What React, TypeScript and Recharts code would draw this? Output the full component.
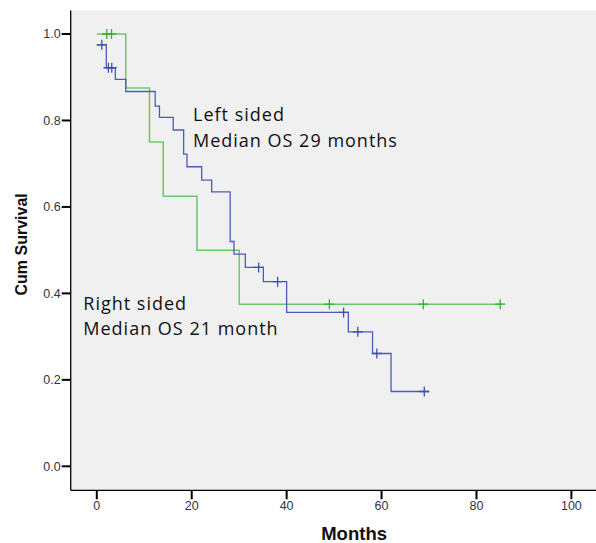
import React from 'react';
import { ComposedChart, Line, Scatter, XAxis, YAxis, CartesianGrid } from 'recharts';

// Kaplan-Meier steps (months / cum survival)
const leftTimes = [0, 2, 3.9, 6.1, 12.3, 13.2, 16.1, 18.3, 19, 22.1, 24.2, 28.1, 28.9, 31.3, 35.1, 40, 53, 58.1, 62, 70];
const leftSurv = [0.975, 0.922, 0.895, 0.867, 0.833, 0.807, 0.778, 0.722, 0.693, 0.662, 0.635, 0.52, 0.491, 0.46, 0.427, 0.356, 0.311, 0.261, 0.173, 0.173];
const leftCensorTimes = [1.05, 2.45, 3.15, 34.1, 38.1, 52, 55, 59, 69];
const leftCensorSurv = [0.975, 0.922, 0.922, 0.46, 0.427, 0.356, 0.311, 0.261, 0.173];

const rightTimes = [0, 6.1, 11.1, 14, 21.1, 30, 85.5];
const rightSurv = [1, 0.875, 0.75, 0.625, 0.5, 0.375, 0.375];
const rightCensorTimes = [2.1, 3.1, 49, 68.8, 85];
const rightCensorSurv = [1, 1, 0.375, 0.375, 0.375];

const xTicks = [0, 20, 40, 60, 80, 100];
const yTicks = [0, 0.2, 0.4, 0.6, 0.8, 1.0];

const toRows = (ts: number[], ss: number[]) => ts.map((t, i) => ({ t, s: ss[i] }));

const leftLine = toRows(leftTimes, leftSurv);
const leftCens = toRows(leftCensorTimes, leftCensorSurv);
const rightLine = toRows(rightTimes, rightSurv);
const rightCens = toRows(rightCensorTimes, rightCensorSurv);

const BLUE = '#4a5bbd';
const GREEN = '#6cc76c';

// censor mark "+"
const Censor = (color: string) => (props: any) => {
  const { cx, cy } = props;
  return (
    <g>
      <line x1={cx - 5} y1={cy} x2={cx + 5} y2={cy} stroke={color} strokeWidth={1.3} />
      <line x1={cx} y1={cy - 5} x2={cx} y2={cy + 5} stroke={color} strokeWidth={1.3} />
    </g>
  );
};

const axisFont = { fill: '#333344', fontSize: 12.5, fontFamily: '"Liberation Sans", Arial, sans-serif' };
const noteStyle = { fontFamily: '"Open Sans", sans-serif', fontSize: 18, letterSpacing: 1, fill: '#111' };

export default function App() {
  return (
    <div style={{ position: 'absolute', left: 0, top: 0, width: 596, height: 543, overflow: 'hidden', background: '#fff' }}>
      <ComposedChart width={620} height={543} margin={{ top: 10.5, right: 22.5, left: 0, bottom: 0 }}>
        <CartesianGrid horizontal={false} vertical={false} fill="#f0f0f0" />
        <XAxis
          dataKey="t"
          type="number"
          domain={[-5.5, 105.5]}
          allowDataOverflow
          ticks={xTicks}
          height={52.7}
          tickSize={9}
          tickMargin={2}
          axisLine={{ stroke: '#000', strokeWidth: 1.3 }}
          tickLine={{ stroke: '#000', strokeWidth: 2 }}
          tick={axisFont}
          label={{
            value: 'Months',
            position: 'insideBottom',
            offset: 3,
            dx: 20,
            style: { fontFamily: '"Liberation Sans", Arial, sans-serif', fontWeight: 'bold', fontSize: 18.5, fill: '#111' },
          }}
        />
        <XAxis
          xAxisId="top"
          orientation="top"
          type="number"
          domain={[-5.5, 105.5]}
          height={0}
          tick={false}
          tickLine={false}
          axisLine={{ stroke: '#000', strokeWidth: 1.3 }}
        />
        <YAxis
          type="number"
          domain={[-0.0555, 1.0544]}
          allowDataOverflow
          ticks={yTicks}
          tickFormatter={(v: number) => v.toFixed(1)}
          width={70.7}
          tickSize={9}
          tickMargin={1}
          axisLine={{ stroke: '#000', strokeWidth: 1.3 }}
          tickLine={{ stroke: '#000', strokeWidth: 2 }}
          tick={axisFont}
          label={{
            value: 'Cum Survival',
            angle: -90,
            position: 'insideLeft',
            offset: 21,
            dy: -6,
            style: { textAnchor: 'middle', fontFamily: '"Liberation Sans", Arial, sans-serif', fontWeight: 'bold', fontSize: 16, fill: '#111' },
          }}
        />
        <Line data={rightLine} dataKey="s" type="stepAfter" stroke={GREEN} strokeWidth={1.5} dot={false} activeDot={false} isAnimationActive={false} />
        <Line data={leftLine} dataKey="s" type="stepAfter" stroke={BLUE} strokeWidth={1.3} dot={false} activeDot={false} isAnimationActive={false} />
        <Scatter data={rightCens} dataKey="s" shape={Censor('#2db52d')} isAnimationActive={false} />
        <Scatter data={leftCens} dataKey="s" shape={Censor('#3f4fb0')} isAnimationActive={false} />
        <text x={193} y={121} style={noteStyle}>Left sided</text>
        <text x={193} y={146.7} style={noteStyle}>Median OS 29 months</text>
        <text x={83.3} y={310} style={noteStyle}>Right sided</text>
        <text x={83.3} y={335} style={noteStyle}>Median OS 21 month</text>
      </ComposedChart>
    </div>
  );
}
